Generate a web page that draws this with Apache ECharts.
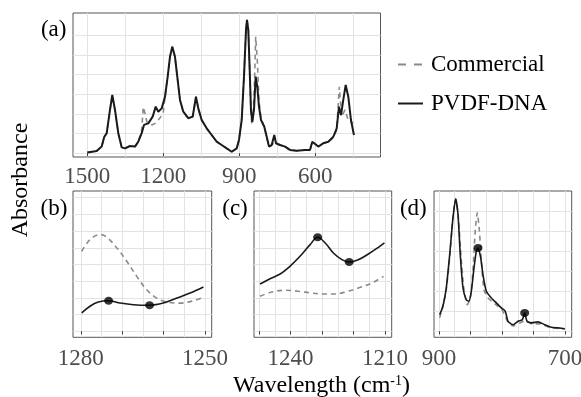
<!DOCTYPE html>
<html>
<head>
<meta charset="utf-8">
<script src="https://cdn.jsdelivr.net/npm/echarts@6/dist/echarts.min.js"></script>
<style>
html,body{margin:0;padding:0;background:#fff;}
#chart{width:581px;height:397px;}
</style>
</head>
<body>
<div id="chart"></div>
<script>
// ---------- data (wavenumber in cm-1, absorbance in arbitrary units) ----------
// Panel (a): full spectrum
var aWavePVDF = [1500,1462.9,1443.2,1432.9,1423.4,1410.4,1401.3,1390.7,1377.6,1364.2,1351.2,1331.5,1311.7,1298.7,1285.3,1276.2,1259.2,1241.9,1230,1219.8,1206.3,1193.3,1182.7,1173.6,1164.5,1153.9,1144.8,1134.1,1121.1,1101.4,1084,1071,1061.9,1048.5,1028.7,1009,989.3,969.5,949.8,930,910.3,901.2,890.6,881.5,873.6,869.7,864.5,859,853.9,848.7,842.1,835.4,829,822.3,814.4,801.4,791.9,782.8,772.2,761.9,755.2,739.4,719.7,700,673.5,640.8,621,611.9,604.3,588.2,568.5,548.8,529,515.6,506.5,498.6,489.6,480.1,469.8,459.3,447.5];
var aPVDF = [0.04,0.12,0.34,0.84,1.02,2.20,2.96,2.20,1.02,0.30,0.25,0.37,0.34,0.59,1.02,1.44,1.52,1.86,2.37,2.11,2.28,2.87,3.89,4.90,5.41,4.90,3.89,2.71,2.11,1.78,1.86,2.87,2.28,1.69,1.27,0.93,0.59,0.42,0.25,0.08,0.25,0.68,1.69,3.89,6.26,6.77,6.26,4.23,2.20,1.60,2.20,3.89,3.38,2.37,1.69,1.35,0.84,0.34,0.42,0.93,0.51,0.42,0.34,0.17,0.13,0.17,0.17,0.59,0.51,0.34,0.51,0.59,0.84,1.27,2.37,1.94,2.71,3.47,2.87,1.69,0.93];
var aWaveComm = [1500,1462.9,1443.2,1432.9,1423.4,1410.4,1401.3,1390.7,1377.6,1364.2,1351.2,1331.5,1311.7,1298.7,1285.3,1279,1272.6,1264.7,1245,1229.2,1213.5,1200.3,1193.3,1182.7,1173.6,1164.5,1153.9,1144.8,1134.1,1121.1,1101.4,1084,1071,1061.9,1048.5,1028.7,1009,989.3,969.5,949.8,930,910.3,901.2,890.6,881.5,873.6,869.7,864.5,859,853.9,850.5,845,840,835.4,829,822.3,814.4,801.4,791.9,782.8,772.2,761.9,755.2,739.4,719.7,700,673.5,640.8,621,611.9,604.3,588.2,568.5,548.8,529,515.6,505.3,496,483,470,450.2];
var aComm = [0.04,0.12,0.34,0.84,1.02,2.20,2.96,2.20,1.02,0.30,0.25,0.37,0.34,0.59,1.18,2.35,2.05,1.59,1.44,1.54,1.79,2.05,2.87,3.89,4.90,5.41,4.90,3.89,2.71,2.11,1.78,1.86,2.87,2.28,1.69,1.27,0.93,0.59,0.42,0.25,0.08,0.25,0.68,1.69,3.89,6.26,6.77,6.26,4.23,2.0,1.44,2.0,3.6,5.92,4.73,2.7,1.79,1.35,0.84,0.34,0.42,0.55,0.51,0.42,0.34,0.17,0.13,0.17,0.17,0.59,0.51,0.34,0.51,0.59,0.78,1.18,3.38,1.86,2.2,1.69,1.52];

// Panel (b): 1280-1250
var bWavePVDF = [1279.8,1277.8,1275.8,1273.3,1270.5,1267.3,1263.4,1260.1,1256.8,1253.6,1250.4];
var bPVDF = [1.10,1.50,1.75,1.83,1.69,1.59,1.56,1.69,1.99,2.29,2.65];
var bWaveComm = [1279.8,1277.8,1275.3,1273.7,1271.3,1268.9,1266.5,1264.1,1261.7,1259.2,1256,1252.8,1250.4];
var bComm = [4.79,5.49,5.79,5.63,4.99,4.19,3.29,2.49,1.99,1.75,1.69,1.83,2.04];
var bDotWave = [1273.3,1263.4];
var bDotAbs = [1.83,1.56];

// Panel (c): 1250-1210
var cWavePVDF = [1249.7,1246.5,1243.3,1240.2,1237,1233.8,1231.4,1229,1226.4,1223.7,1221.4,1218.5,1215.3,1212.1,1210.2];
var cPVDF = [2.83,3.15,3.43,3.89,4.49,5.19,5.63,5.29,4.69,4.29,4.15,4.29,4.63,5.03,5.29];
var cWaveComm = [1249.7,1246,1241.7,1237.5,1233.3,1229,1225.9,1222.7,1218.5,1214.2,1210.5];
var cComm = [2.10,2.35,2.46,2.40,2.29,2.23,2.23,2.35,2.59,2.89,3.29];
var cDotWave = [1231.4,1221.4];
var cDotAbs = [5.63,4.15];

// Panel (d): 900-700
var dWavePVDF = [898.9,893.7,888.4,883,877.8,873.5,869.8,866.2,861.9,856.7,852.9,848.7,844.4,840.8,838.1,833.8,830.2,824.9,817,809,801.1,794.8,790.5,782.5,774.6,767.8,764,760.3,753.5,742.9,732.2,721.7,711.1,700.5];
var dPVDF = [0.83,1.25,2.17,3.83,5.67,6.63,5.83,3.83,2.17,1.58,1.50,2.00,3.17,4.00,4.17,3.67,2.83,2.00,1.67,1.42,1.17,1.00,0.50,0.33,0.50,0.58,0.92,0.50,0.42,0.47,0.33,0.20,0.17,0.13];
var dWaveComm = [898.9,889,882.5,877.8,873.5,869.4,865,860.3,855,849.7,845.6,842.4,839.2,836,832.2,828.6,822.2,811.1,800,790.5,782.5,771.4,763.5,752.4,739.7,723.8,700];
var dComm = [0.67,1.97,3.87,5.8,6.6,5.75,3.75,2.07,1.33,1.77,3.3,5.07,5.92,5.07,3.3,2.07,1.67,1.37,1.07,0.47,0.27,0.42,0.52,0.37,0.37,0.19,0.12];
var dDotWave = [838.1,764];
var dDotAbs = [4.17,0.92];

// tick / gridline values
var aTicks = [1500,1200,900,600];
var aMinor = [1350,1050,750,450];
var bTicks = [1280,1270,1260,1250];
var bLabels = [1280,1250];
var bMinor = [1275,1265,1255];
var cTicks = [1250,1240,1230,1220,1210];
var cLabels = [1240,1210];
var cMinor = [1245,1235,1225,1215];
var dTicks = [900,850,800,750,700];
var dLabels = [900,700];
var dMinor = [875,825,775,725];
var aYGrid = [0,1,2,3,4,5,6];
var bcYGrid = [0,1,2,3,4,5,6,7,8];
var dYGrid = [0,1,2,3,4,5,6];

var seriesNames = ['Commercial','PVDF-DNA'];
var panelLabels = ['(a)','(b)','(c)','(d)'];

// ---------- build ----------
function zip(xs, ys){ return xs.map(function(x,i){ return [x, ys[i]]; }); }
var FONT = 'Liberation Serif';
var GRIDC = '#e3e3e3';
var BORDER = '#555555';

var panels = [
  {grid:{left:73, top:13, width:307.5, height:144}, xmin:342.7, xmax:1556.4, ymin:-0.188, ymax:7.122,
   ticks:aTicks, labels:aTicks, minor:aMinor, ygrid:aYGrid, margin:20, lw:2,
   pv:zip(aWavePVDF,aPVDF), cm:zip(aWaveComm,aComm), dots:null, smooth:false},
  {grid:{left:73, top:191, width:138.7, height:146.3}, xmin:1248.4, xmax:1281.9, ymin:-0.359, ymax:8.401,
   ticks:bTicks, labels:bLabels, minor:bMinor, ygrid:bcYGrid, margin:21.5, lw:1.6,
   pv:zip(bWavePVDF,bPVDF), cm:zip(bWaveComm,bComm), dots:zip(bDotWave,bDotAbs), smooth:0.35},
  {grid:{left:254, top:191, width:137.7, height:146.3}, xmin:1207.9, xmax:1251.6, ymin:-0.359, ymax:8.401,
   ticks:cTicks, labels:cLabels, minor:cMinor, ygrid:bcYGrid, margin:21.5, lw:1.6,
   pv:zip(cWavePVDF,cPVDF), cm:zip(cWaveComm,cComm), dots:zip(cDotWave,cDotAbs), smooth:0.35},
  {grid:{left:434, top:191, width:137.7, height:146.3}, xmin:689.4, xmax:907.9, ymin:-0.3, ymax:7.015,
   ticks:dTicks, labels:dLabels, minor:dMinor, ygrid:dYGrid, margin:21.5, lw:1.6,
   pv:zip(dWavePVDF,dPVDF), cm:zip(dWaveComm,dComm), dots:zip(dDotWave,dDotAbs), smooth:0.2}
];

var grids = [], xAxes = [], yAxes = [], series = [];
panels.forEach(function(p, i){
  grids.push(Object.assign({show:true, borderColor:BORDER, borderWidth:1, backgroundColor:'transparent',
                            containLabel:false, outerBoundsMode:'none'}, p.grid));
  var xMain = xAxes.length;
  xAxes.push({
    type:'value', gridIndex:i, min:p.xmin, max:p.xmax, inverse:true, position:'bottom',
    axisLine:{show:false},
    axisTick:{show:true, length:3, lineStyle:{color:'#333333', width:1}, customValues:p.ticks},
    axisLabel:{show:true, customValues:p.labels, fontFamily:FONT, fontSize:23, color:'#4d4d4d',
               margin:p.margin, verticalAlign:'middle', hideOverlap:false,
               formatter:function(v){ return String(Math.round(v)); }},
    splitLine:{show:true, lineStyle:{color:GRIDC, width:1}}
  });
  xAxes.push({
    type:'value', gridIndex:i, min:p.xmin, max:p.xmax, inverse:true, position:'top',
    axisLine:{show:false}, axisLabel:{show:false},
    axisTick:{show:false, customValues:p.minor},
    splitLine:{show:true, lineStyle:{color:GRIDC, width:1}}
  });
  yAxes.push({
    type:'value', gridIndex:i, min:p.ymin, max:p.ymax,
    axisLine:{show:false}, axisLabel:{show:false},
    axisTick:{show:false, customValues:p.ygrid},
    splitLine:{show:true, lineStyle:{color:GRIDC, width:1}}
  });
  series.push({
    name:seriesNames[0], type:'line', xAxisIndex:xMain, yAxisIndex:i, data:p.cm,
    symbol:'none', showSymbol:false, smooth:p.smooth, z:2,
    lineStyle:{color:'#8a8a8a', width:1.6, type:[5,4]}, itemStyle:{color:'#8a8a8a'}
  });
  series.push({
    name:seriesNames[1], type:'line', xAxisIndex:xMain, yAxisIndex:i, data:p.pv,
    symbol:'none', showSymbol:false, smooth:p.smooth, z:3,
    lineStyle:{color:'#1a1a1a', width:p.lw, type:'solid'}, itemStyle:{color:'#1a1a1a'}
  });
  if (p.dots) {
    series.push({
      name:'peaks', type:'scatter', xAxisIndex:xMain, yAxisIndex:i, data:p.dots,
      symbol:'circle', symbolSize:[9,8], z:4, itemStyle:{color:'#000000'}
    });
  }
});

var labelPos = [[53.7,29.7],[54,208.5],[235,208.5],[413.3,208.5]];
var graphics = panelLabels.map(function(t, i){
  return {type:'text', x:labelPos[i][0], y:labelPos[i][1],
    style:{text:t, fontFamily:FONT, fontSize:23, fill:'#000', align:'center', verticalAlign:'middle'}};
});
graphics.push({type:'text', x:21, y:180, rotation:Math.PI/2,
  style:{text:'Absorbance', fontFamily:FONT, fontSize:24, fill:'#000', align:'center', verticalAlign:'middle'}});
graphics.push({type:'text', x:321.5, y:386,
  style:{text:'{n|Wavelength (cm}{s|-1}{n|)}', align:'center', verticalAlign:'middle',
    rich:{
      n:{fontFamily:FONT, fontSize:24, fill:'#000', lineHeight:24},
      s:{fontFamily:FONT, fontSize:14, fill:'#000', lineHeight:14, verticalAlign:'top'}
    }}});

var chart = echarts.init(document.getElementById('chart'), null, {renderer:'canvas', width:581, height:397});
chart.setOption({
  animation:false,
  backgroundColor:'#ffffff',
  textStyle:{fontFamily:FONT},
  legend:{
    data:[{name:seriesNames[0], lineStyle:{type:[8,8]}}, {name:seriesNames[1]}],
    orient:'vertical', left:397, top:53, padding:0,
    itemWidth:25, itemHeight:14, itemGap:16,
    itemStyle:{opacity:0},
    textStyle:{fontFamily:FONT, fontSize:23, color:'#000', lineHeight:23, padding:[0,0,0,3]}
  },
  grid:grids, xAxis:xAxes, yAxis:yAxes, series:series, graphic:graphics
});
</script>
</body>
</html>
